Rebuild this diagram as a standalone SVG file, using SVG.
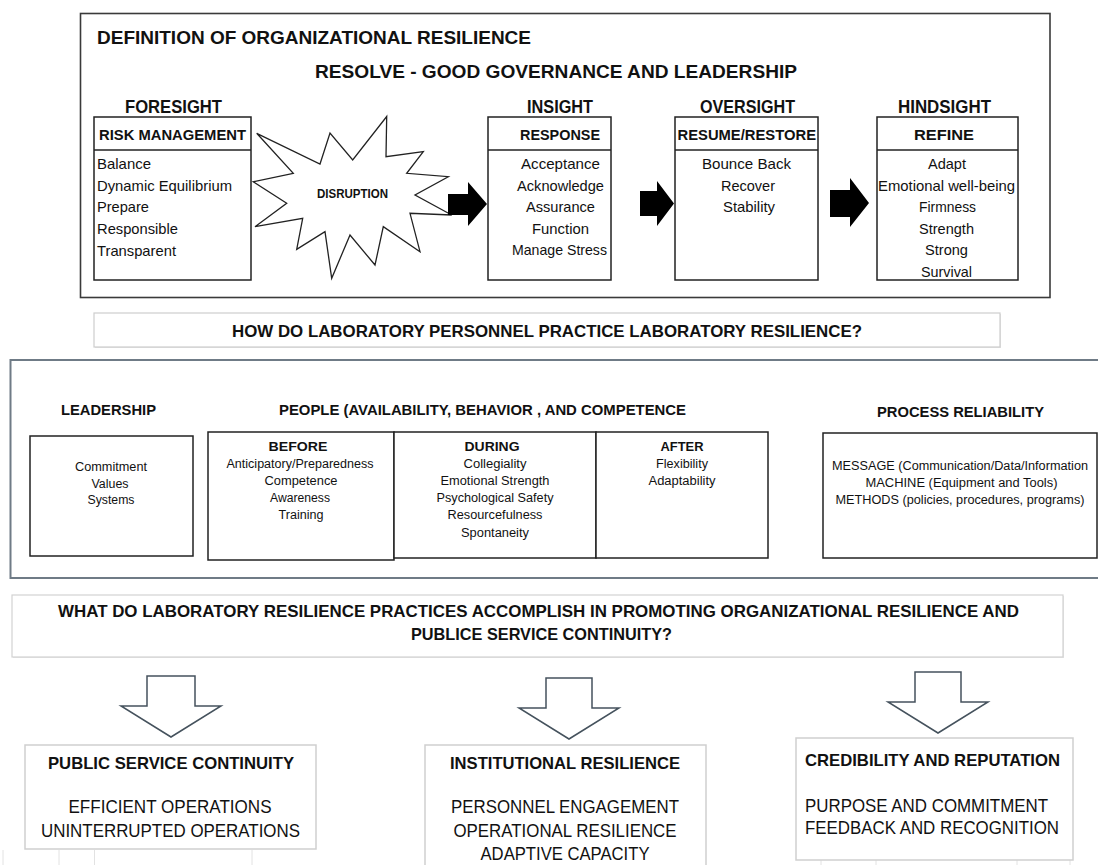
<svg xmlns="http://www.w3.org/2000/svg" width="1098" height="865" viewBox="0 0 1098 865">
<style>
text{font-family:"Liberation Sans Narrow","Liberation Sans",Arial,sans-serif;fill:#111}
.b{font-weight:bold}
.h1{font-size:19px;font-weight:bold}
.hd{font-size:15px;font-weight:bold}
.it{font-size:14.5px}
.sm{font-size:12.5px}
.q{font-size:16.5px;font-weight:bold}
.bt{font-size:17px;font-weight:bold}
.bc{font-size:18px}
.c{text-anchor:middle}
.box{fill:#fff;stroke:#222;stroke-width:1.5}
.lbox{fill:#fff;stroke:#cfcfcf;stroke-width:1.5}
.harr{fill:#000}
.oarr{fill:#fff;stroke:#45525d;stroke-width:1.5;stroke-linejoin:miter}
.tick{stroke:#e2e2e2;stroke-width:1}
</style>

<g id="definition-frame">
<rect x="80.5" y="13.5" width="969.5" height="284" fill="#fff" stroke="#3a3a3a" stroke-width="1.6"/>
<text class="h1" x="97" y="44" textLength="434" lengthAdjust="spacingAndGlyphs">DEFINITION OF ORGANIZATIONAL RESILIENCE</text>
<text class="h1" x="315" y="78" textLength="482" lengthAdjust="spacingAndGlyphs">RESOLVE - GOOD GOVERNANCE AND LEADERSHIP</text>
</g>

<g id="foresight">
<text class="h1" x="125" y="113" textLength="97" lengthAdjust="spacingAndGlyphs">FORESIGHT</text>
<rect class="box" x="94" y="117" width="157" height="163"/>
<line x1="94" y1="150" x2="251" y2="150" stroke="#222" stroke-width="1.5"/>
<text class="hd" x="99" y="140" textLength="147" lengthAdjust="spacingAndGlyphs">RISK MANAGEMENT</text>
<text class="it" x="97" y="169" textLength="54" lengthAdjust="spacingAndGlyphs">Balance</text>
<text class="it" x="97" y="191" textLength="135" lengthAdjust="spacingAndGlyphs">Dynamic Equilibrium</text>
<text class="it" x="97" y="212" textLength="52" lengthAdjust="spacingAndGlyphs">Prepare</text>
<text class="it" x="97" y="234" textLength="81" lengthAdjust="spacingAndGlyphs">Responsible</text>
<text class="it" x="97" y="255.5" textLength="79" lengthAdjust="spacingAndGlyphs">Transparent</text>
</g>

<g id="disruption">
<path d="M256.7,133.3 L320,164 L330,133 L352.7,160 L386.7,116.5 L386,156.7 L423.3,151.7 L406.7,173.3 L448.3,176.7 L415,195 L451.7,215 L410,213.3 L420,251.7 L383.3,226.7 L375,265 L350,235 L331.7,278.3 L325,231.7 L296.7,249.3 L302.7,218.3 L255,226.7 L286.7,203.3 L253.3,181.7 L293.3,173.3 Z" fill="#fff" stroke="#222" stroke-width="1.3" stroke-linejoin="miter"/>
<text class="b" x="317" y="198" font-size="13" textLength="71" lengthAdjust="spacingAndGlyphs">DISRUPTION</text>
</g>

<g id="insight">
<text class="h1" x="527" y="113" textLength="66" lengthAdjust="spacingAndGlyphs">INSIGHT</text>
<rect class="box" x="488" y="117" width="123" height="163"/>
<line x1="488" y1="150" x2="611" y2="150" stroke="#222" stroke-width="1.5"/>
<text class="hd" x="520" y="140" textLength="80" lengthAdjust="spacingAndGlyphs">RESPONSE</text>
<text class="it" x="521" y="169" textLength="79" lengthAdjust="spacingAndGlyphs">Acceptance</text>
<text class="it" x="517" y="190.5" textLength="87" lengthAdjust="spacingAndGlyphs">Acknowledge</text>
<text class="it" x="526" y="212" textLength="69" lengthAdjust="spacingAndGlyphs">Assurance</text>
<text class="it" x="532" y="233.5" textLength="57" lengthAdjust="spacingAndGlyphs">Function</text>
<text class="it" x="512" y="255" textLength="95" lengthAdjust="spacingAndGlyphs">Manage Stress</text>
</g>

<g id="oversight">
<text class="h1" x="700" y="113" textLength="95" lengthAdjust="spacingAndGlyphs">OVERSIGHT</text>
<rect class="box" x="675" y="117" width="143" height="163"/>
<line x1="675" y1="150" x2="818" y2="150" stroke="#222" stroke-width="1.5"/>
<text class="hd" x="677.5" y="140" textLength="138.5" lengthAdjust="spacingAndGlyphs">RESUME/RESTORE</text>
<text class="it" x="702" y="169" textLength="89" lengthAdjust="spacingAndGlyphs">Bounce Back</text>
<text class="it" x="721" y="190.5" textLength="54" lengthAdjust="spacingAndGlyphs">Recover</text>
<text class="it" x="723" y="212" textLength="52" lengthAdjust="spacingAndGlyphs">Stability</text>
</g>

<g id="hindsight">
<text class="h1" x="898" y="113" textLength="93" lengthAdjust="spacingAndGlyphs">HINDSIGHT</text>
<rect class="box" x="877" y="117" width="141" height="163"/>
<line x1="877" y1="150" x2="1018" y2="150" stroke="#222" stroke-width="1.5"/>
<text class="hd" x="914" y="140" textLength="60" lengthAdjust="spacingAndGlyphs">REFINE</text>
<text class="it" x="928" y="169" textLength="38" lengthAdjust="spacingAndGlyphs">Adapt</text>
<text class="it" x="878" y="190.5" textLength="137" lengthAdjust="spacingAndGlyphs">Emotional well-being</text>
<text class="it" x="919" y="212" textLength="57" lengthAdjust="spacingAndGlyphs">Firmness</text>
<text class="it" x="919" y="233.5" textLength="55" lengthAdjust="spacingAndGlyphs">Strength</text>
<text class="it" x="925" y="255" textLength="43" lengthAdjust="spacingAndGlyphs">Strong</text>
<text class="it" x="921" y="276.5" textLength="51" lengthAdjust="spacingAndGlyphs">Survival</text>
</g>

<g id="connectors">
<path class="harr" d="M448,194 L468,194 L468,182 L487,204 L468,226 L468,215 L448,215 Z"/>
<path class="harr" d="M640,191 L657,191 L657,181 L674,203.5 L657,226 L657,216 L640,216 Z"/>
<path class="harr" d="M830,190 L850,190 L850,178 L869,203 L850,227 L850,217 L830,217 Z"/>
<path class="oarr" d="M147,676 L195,676 L195,706 L221,706 L171,737 L121,706 L147,706 Z"/>
<path class="oarr" d="M546,678 L592,678 L592,708 L619,708 L569,739 L519,708 L546,708 Z"/>
<path class="oarr" d="M915,672 L961,672 L961,702 L988,702 L938,733 L888,702 L915,702 Z"/>
</g>

<g id="question-practice">
<rect x="95" y="314" width="906" height="34" fill="#e4e4e4"/>
<rect x="94" y="313" width="906" height="34" fill="#fff" stroke="#cdcdcd" stroke-width="1.2"/>
<text class="q" x="232" y="337" textLength="630" lengthAdjust="spacingAndGlyphs">HOW DO LABORATORY PERSONNEL PRACTICE LABORATORY RESILIENCE?</text>
</g>

<g id="practice-frame">
<rect x="10.5" y="360" width="1100" height="218" fill="none" stroke="#6f7b86" stroke-width="2"/>
</g>

<g id="leadership">
<text class="hd" x="61" y="415" textLength="95" lengthAdjust="spacingAndGlyphs">LEADERSHIP</text>
<rect class="box" x="30" y="436" width="163" height="120" stroke-width="1.3"/>
<text class="sm c" x="111" y="471" textLength="72" lengthAdjust="spacingAndGlyphs">Commitment</text>
<text class="sm c" x="110" y="488" textLength="37" lengthAdjust="spacingAndGlyphs">Values</text>
<text class="sm c" x="111" y="504" textLength="47" lengthAdjust="spacingAndGlyphs">Systems</text>
</g>

<g id="people">
<text class="hd" x="279" y="415" textLength="407" lengthAdjust="spacingAndGlyphs">PEOPLE (AVAILABILITY, BEHAVIOR , AND COMPETENCE</text>
<rect class="box" x="208" y="432" width="186" height="128" stroke-width="1.3"/>
<rect class="box" x="394" y="432" width="202" height="126" stroke-width="1.3"/>
<rect class="box" x="596" y="432" width="172" height="126" stroke-width="1.3"/>
<text class="b c" font-size="13" x="298" y="451" textLength="59" lengthAdjust="spacingAndGlyphs">BEFORE</text>
<text class="sm c" x="300" y="468" textLength="147" lengthAdjust="spacingAndGlyphs">Anticipatory/Preparedness</text>
<text class="sm c" x="301" y="485" textLength="73" lengthAdjust="spacingAndGlyphs">Competence</text>
<text class="sm c" x="300" y="502" textLength="60" lengthAdjust="spacingAndGlyphs">Awareness</text>
<text class="sm c" x="301" y="518.5" textLength="45" lengthAdjust="spacingAndGlyphs">Training</text>
<text class="b c" font-size="13" x="492" y="451" textLength="55" lengthAdjust="spacingAndGlyphs">DURING</text>
<text class="sm c" x="495" y="468" textLength="63" lengthAdjust="spacingAndGlyphs">Collegiality</text>
<text class="sm c" x="495" y="485" textLength="109" lengthAdjust="spacingAndGlyphs">Emotional Strength</text>
<text class="sm c" x="495" y="502" textLength="117" lengthAdjust="spacingAndGlyphs">Psychological Safety</text>
<text class="sm c" x="495" y="518.5" textLength="95" lengthAdjust="spacingAndGlyphs">Resourcefulness</text>
<text class="sm c" x="495" y="536.5" textLength="68" lengthAdjust="spacingAndGlyphs">Spontaneity</text>
<text class="b c" font-size="13" x="682" y="451" textLength="43" lengthAdjust="spacingAndGlyphs">AFTER</text>
<text class="sm c" x="682" y="468" textLength="52" lengthAdjust="spacingAndGlyphs">Flexibility</text>
<text class="sm c" x="682" y="485" textLength="67" lengthAdjust="spacingAndGlyphs">Adaptability</text>
</g>

<g id="process">
<text class="hd" x="877" y="417" textLength="167" lengthAdjust="spacingAndGlyphs">PROCESS RELIABILITY</text>
<rect class="box" x="823" y="433" width="274" height="125" stroke-width="1.3"/>
<text class="sm c" x="960" y="469.5" textLength="256" lengthAdjust="spacingAndGlyphs">MESSAGE (Communication/Data/Information</text>
<text class="sm c" x="961.5" y="486.5" textLength="192" lengthAdjust="spacingAndGlyphs">MACHINE (Equipment and Tools)</text>
<text class="sm c" x="960" y="503.5" textLength="249" lengthAdjust="spacingAndGlyphs">METHODS (policies, procedures, programs)</text>
</g>

<g id="question-accomplish">
<rect x="13" y="596" width="1051" height="62" fill="#e6e6e6"/>
<rect x="12" y="595" width="1051" height="62" fill="#fff" stroke="#d2d2d2" stroke-width="1.2"/>
<text class="q" x="58" y="617" textLength="961" lengthAdjust="spacingAndGlyphs">WHAT DO LABORATORY RESILIENCE PRACTICES ACCOMPLISH IN PROMOTING ORGANIZATIONAL RESILIENCE AND</text>
<text class="q" x="411" y="640" textLength="261" lengthAdjust="spacingAndGlyphs">PUBLICE SERVICE CONTINUITY?</text>
</g>

<g id="ticks">
<line class="tick" x1="3" y1="850" x2="3" y2="865"/>
<line class="tick" x1="59" y1="850" x2="59" y2="865"/>
<line class="tick" x1="94.5" y1="850" x2="94.5" y2="865"/>
<line class="tick" x1="252" y1="850" x2="252" y2="865"/>
<line class="tick" x1="434" y1="848" x2="434" y2="865"/>
<line class="tick" x1="623.5" y1="848" x2="623.5" y2="865"/>
<line class="tick" x1="675" y1="848" x2="675" y2="865"/>
<line class="tick" x1="821" y1="848" x2="821" y2="865"/>
<line class="tick" x1="876" y1="848" x2="876" y2="865"/>
<line class="tick" x1="1017" y1="848" x2="1017" y2="865"/>
<line class="tick" x1="1070" y1="848" x2="1070" y2="865"/>
</g>

<g id="public-service-continuity">
<rect class="lbox" x="25" y="745" width="291" height="104"/>
<text class="bt" x="48" y="769" textLength="246" lengthAdjust="spacingAndGlyphs">PUBLIC SERVICE CONTINUITY</text>
<text class="bc c" x="170" y="813" textLength="203" lengthAdjust="spacingAndGlyphs">EFFICIENT OPERATIONS</text>
<text class="bc c" x="170.5" y="837" textLength="259" lengthAdjust="spacingAndGlyphs">UNINTERRUPTED OPERATIONS</text>
</g>

<g id="institutional-resilience">
<rect class="lbox" x="425" y="745" width="281" height="130"/>
<text class="bt" x="450" y="769" textLength="230" lengthAdjust="spacingAndGlyphs">INSTITUTIONAL RESILIENCE</text>
<text class="bc c" x="565" y="813" textLength="228" lengthAdjust="spacingAndGlyphs">PERSONNEL ENGAGEMENT</text>
<text class="bc c" x="565" y="837" textLength="223" lengthAdjust="spacingAndGlyphs">OPERATIONAL RESILIENCE</text>
<text class="bc c" x="565" y="860" textLength="169" lengthAdjust="spacingAndGlyphs">ADAPTIVE CAPACITY</text>
</g>

<g id="credibility-reputation">
<rect class="lbox" x="796" y="738" width="277" height="122"/>
<text class="bt" x="805" y="766" textLength="255" lengthAdjust="spacingAndGlyphs">CREDIBILITY AND REPUTATION</text>
<text class="bc" x="805" y="812" textLength="243" lengthAdjust="spacingAndGlyphs">PURPOSE AND COMMITMENT</text>
<text class="bc" x="805" y="834" textLength="254" lengthAdjust="spacingAndGlyphs">FEEDBACK AND RECOGNITION</text>
</g>
</svg>
